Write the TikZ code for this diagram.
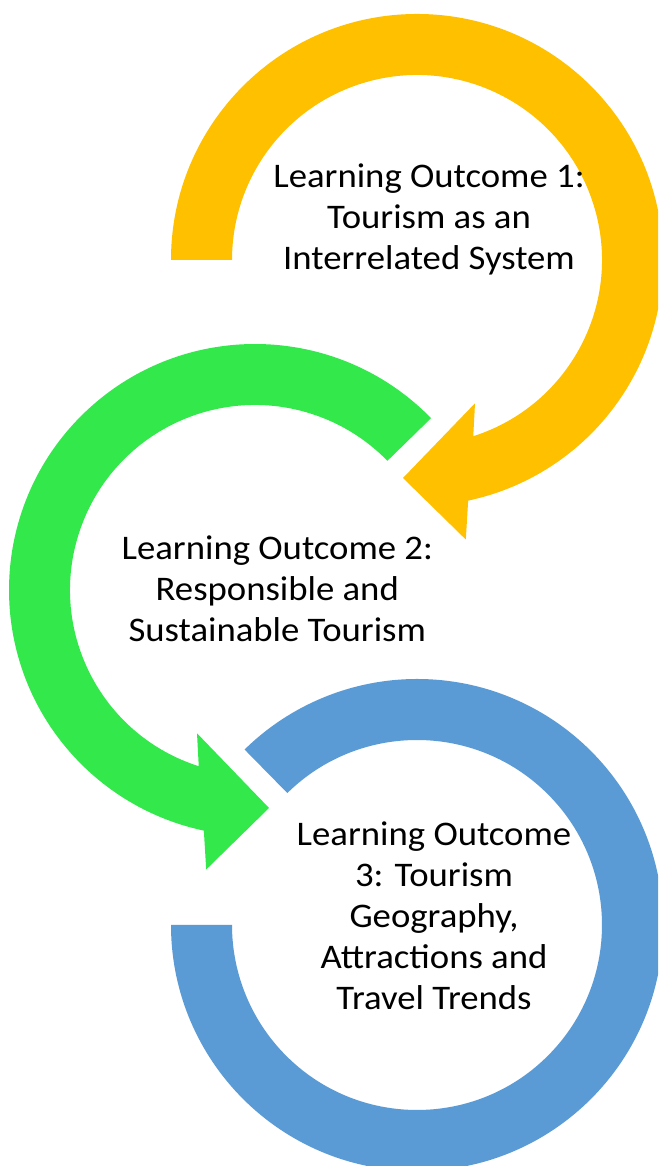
\documentclass[tikz,border=0pt]{standalone}
\usepackage{fontspec}
\setmainfont{Carlito}[FakeStretch=1.065]
\definecolor{goldarc}{HTML}{FFC000}
\definecolor{greenarc}{HTML}{32E84B}
\definecolor{bluearc}{HTML}{5B9BD5}
\tikzset{
  % anchored at the baseline of the last line of each label
  outcome/.style={align=center, anchor=base, inner sep=0pt, text=black,
    font=\fontsize{34.5}{41}\selectfont},
}
\newcommand{\rout}{246}
\newcommand{\rin}{185}
\begin{document}
\begin{tikzpicture}[x=1pt,y=1pt]
\useasboundingbox (0,0) rectangle (658,1166);
\clip (0,0) rectangle (658,1166);
\fill[white] (0,0) rectangle (658,1166);

% first ring: clockwise from the left, arrowhead at the bottom pointing left
\begin{scope}[shift={(417,906)}]
  \fill[goldarc] (180:\rout) arc[start angle=180, end angle=-78, radius=\rout]
    -- (48.8,-279.5) -- (-14,-218) -- (58,-143.3)
    -- (-72.3:\rin) arc[start angle=-72.3, end angle=180, radius=\rin] -- cycle;
\end{scope}

% second ring: counter-clockwise from the upper right, arrowhead pointing right
\begin{scope}[shift={(255,576)}]
  \fill[greenarc] (44.3:\rout) arc[start angle=44.3, end angle=258, radius=\rout]
    -- (-48.8,-279.5) -- (14,-218) -- (-58,-143.3)
    -- (252.3:\rin) arc[start angle=252.3, end angle=44.3, radius=\rin] -- cycle;
\end{scope}

% third ring: open arc without arrowhead
\begin{scope}[shift={(417,241)}]
  \fill[bluearc] (180:\rout) arc[start angle=180, end angle=494.5, radius=\rout]
    -- (134.5:\rin) arc[start angle=134.5, end angle=180-360, radius=\rin] -- cycle;
\end{scope}

\node[outcome] (lo1) at (429,896) {Learning Outcome 1:\\Tourism as an\\Interrelated System};
\node[outcome] (lo2) at (277.3,524.3) {Learning Outcome 2:\\Responsible and\\Sustainable Tourism};
\node[outcome] (lo3) at (434,156) {Learning Outcome\\3: Tourism\\Geography,\\Attractions and\\Travel Trends};
\end{tikzpicture}
\end{document}
